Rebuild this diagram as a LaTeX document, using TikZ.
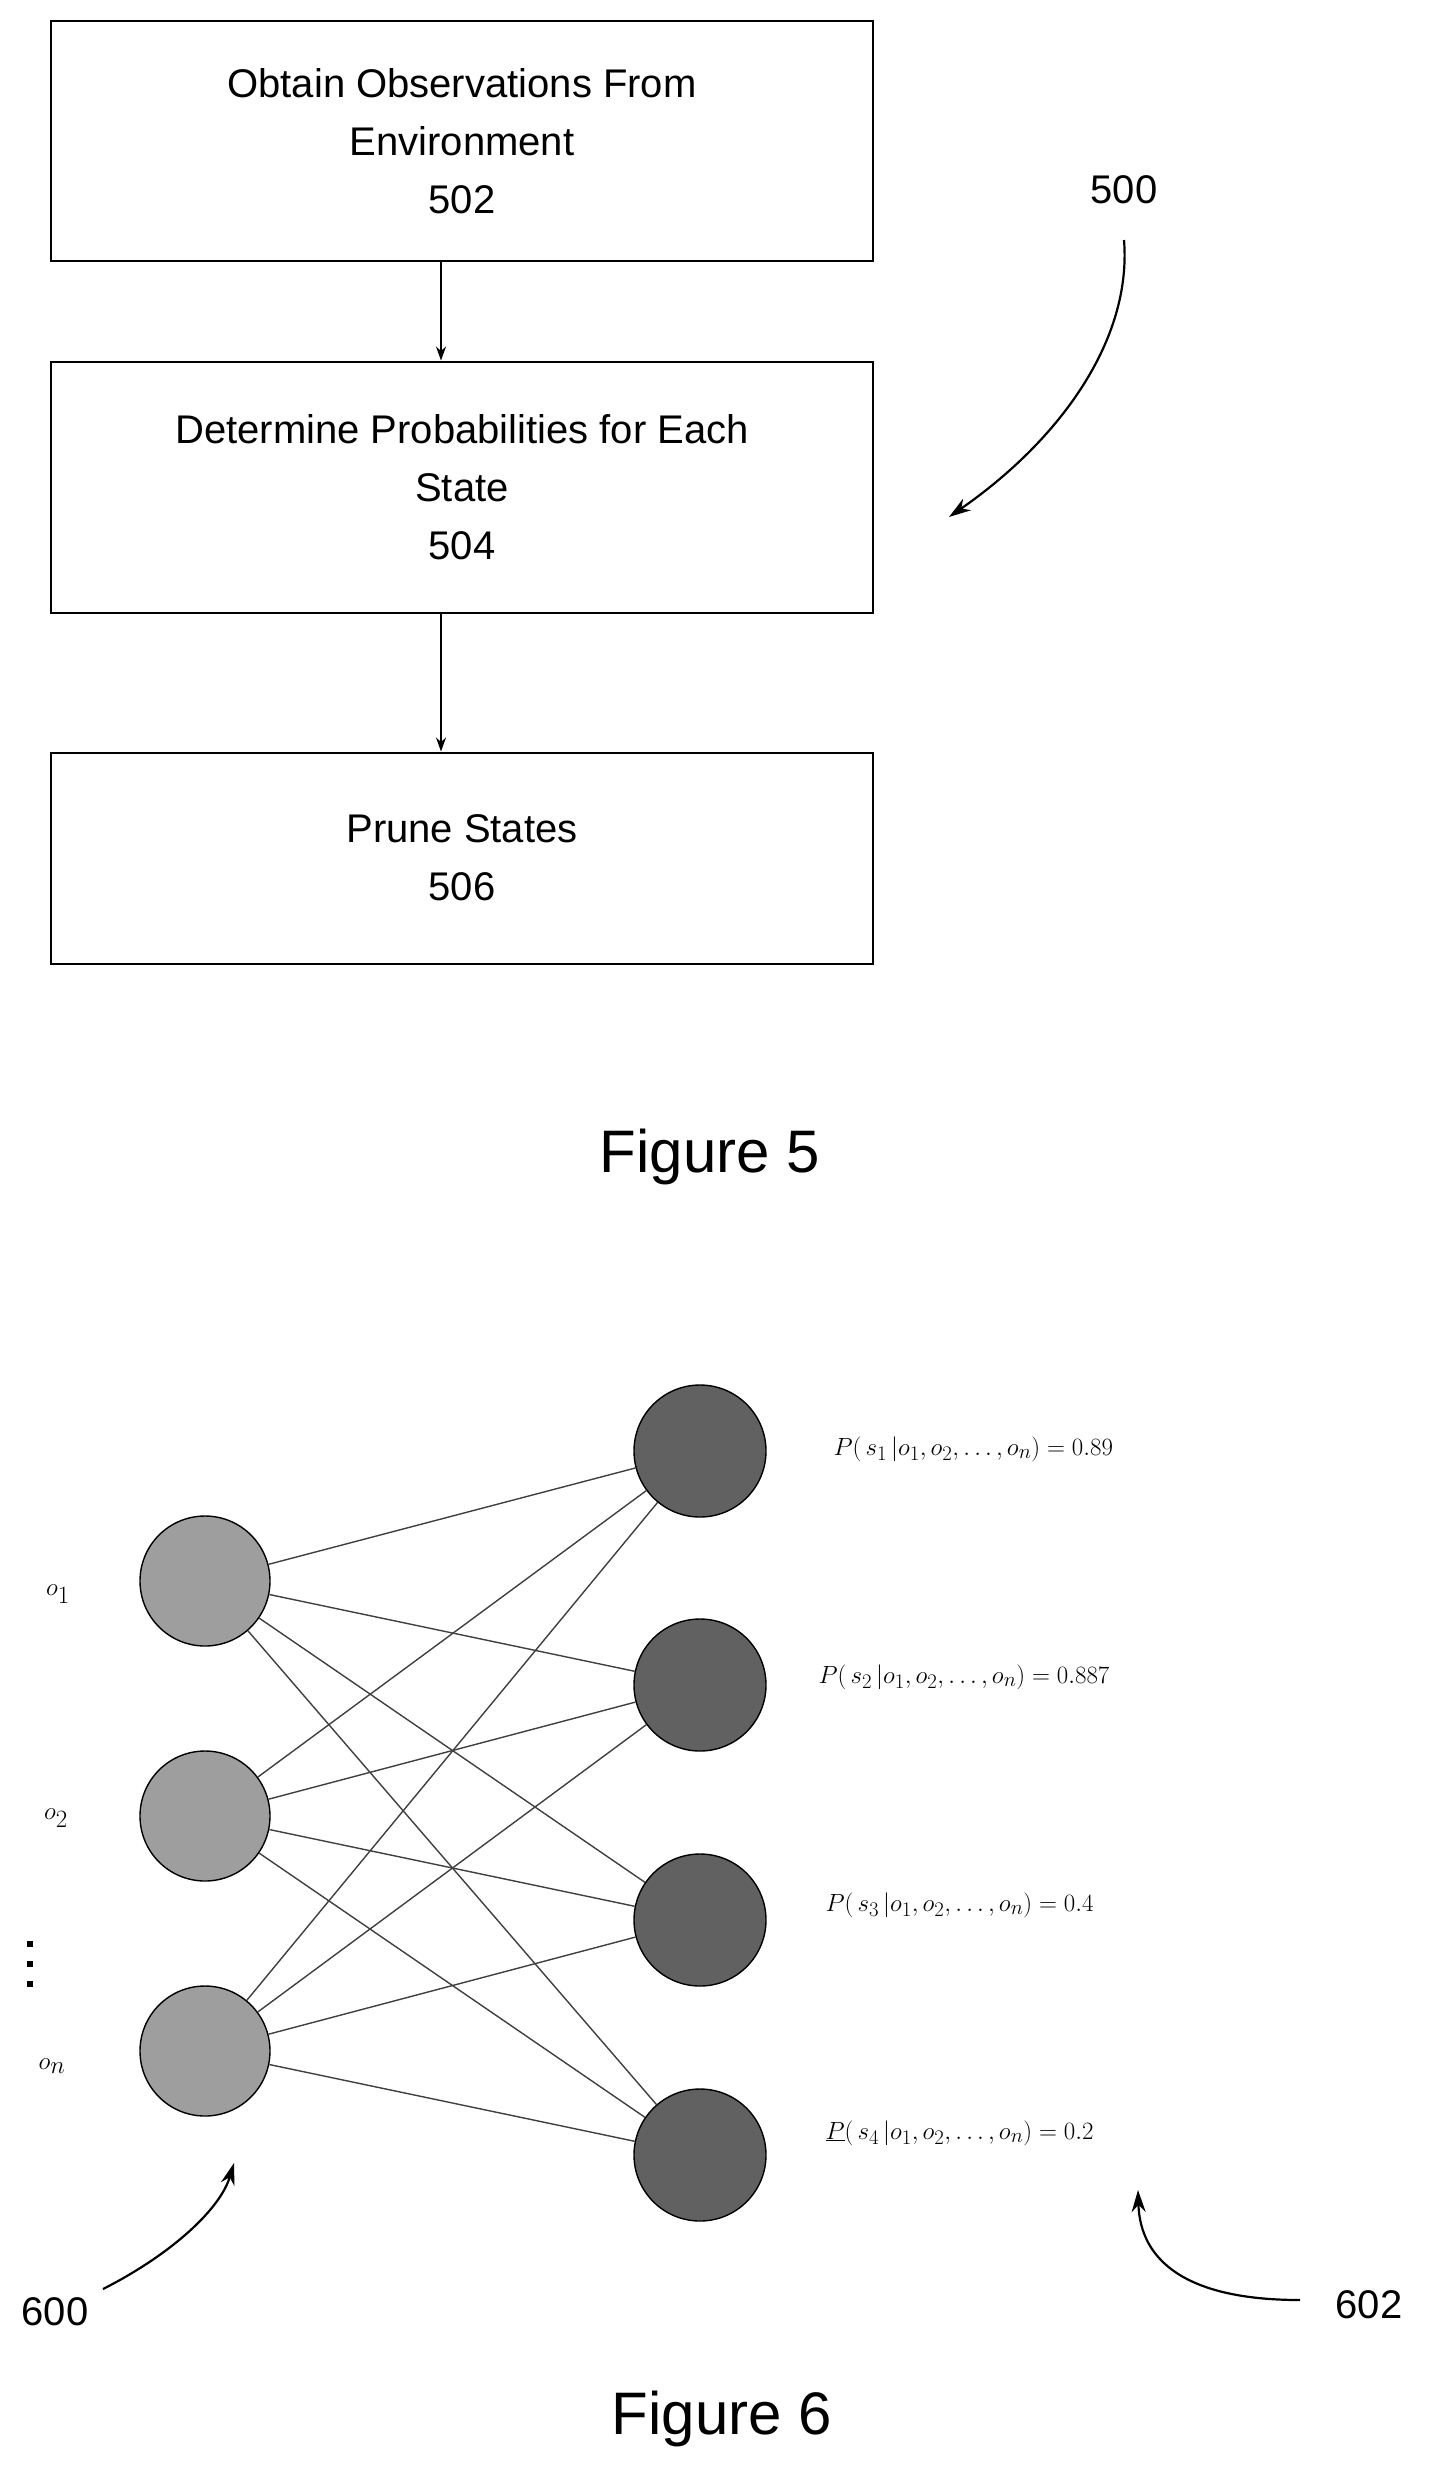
\documentclass[tikz,border=0pt]{standalone}
\usepackage{fontspec}
\setmainfont{Liberation Sans}
\usetikzlibrary{arrows.meta,backgrounds}
\begin{document}
\begin{tikzpicture}[x=1pt,y=-1pt,
  box/.style={draw,line width=2pt,rectangle,minimum width=822pt,inner sep=0pt,align=center,font=\fontsize{40}{58}\selectfont},
  flow/.style={-{Stealth[length=14pt,width=10pt]},line width=1.6pt},
  ref/.style={-{Stealth[length=22pt,width=14pt]},line width=2.2pt},
  obs/.style={circle,draw,line width=1.4pt,fill=black!38,minimum size=130pt,inner sep=0pt},
  st/.style={circle,draw,line width=1.4pt,fill=black!62,minimum size=132pt,inner sep=0pt},
  edge/.style={line width=1.4pt,draw=black!75},
  lbl/.style={font=\fontsize{40}{48}\selectfont},
  eq/.style={anchor=west,font=\fontsize{31}{38}\selectfont}]
\useasboundingbox[fill=white] (0,0) rectangle (1439,2489);
\node[box,minimum height=240pt] (b1) at (462,141) {Obtain Observations From\\Environment\\502};
\node[box,minimum height=251pt] (b2) at (462,487) {Determine Probabilities for Each\\State\\504};
\node[box,minimum height=211pt] (b3) at (462,858) {Prune States\\506};
\draw[flow] (b1.south -| 441,0) -- (b2.north -| 441,0);
\draw[flow] (b2.south -| 441,0) -- (b3.north -| 441,0);
\node[lbl] (l500) at (1124,190) {500};
\coordinate (a500s) at (1124,240);
\coordinate (a500e) at (949,517);
\draw[ref] (a500s) .. controls (1132,340) and (1060,440) .. (a500e);
\node[font=\fontsize{60}{70}\selectfont] (f5) at (710,1157) {Figure 5};

\node[obs] (o1) at (205,1581) {};
\node[obs] (o2) at (205,1816) {};
\node[obs] (o3) at (205,2051) {};
\node[st] (s1) at (700,1451) {};
\node[st] (s2) at (700,1685) {};
\node[st] (s3) at (700,1920) {};
\node[st] (s4) at (700,2155) {};
\foreach \o in {o1,o2,o3}{\foreach \s in {s1,s2,s3,s4}{\draw[edge] (\o) -- (\s);}}
\node[font=\fontsize{34}{40}\selectfont] (lo1) at (58,1594) {$o_1$};
\node[font=\fontsize{34}{40}\selectfont] (lo2) at (56,1818) {$o_2$};
\node[font=\fontsize{34}{40}\selectfont] (lon) at (52,2066) {$o_n$};
\fill (27,1941) rectangle (33,1947);
\fill (27,1961) rectangle (33,1967);
\fill (27,1981) rectangle (33,1987);
\node[eq] (p1) at (830,1449) {$P(\,s_1\,|o_1,o_2,\dots,o_n)=0.89$};
\node[eq] (p2) at (815,1677) {$P(\,s_2\,|o_1,o_2,\dots,o_n)=0.887$};
\node[eq] (p3) at (822,1905) {$P(\,s_3\,|o_1,o_2,\dots,o_n)=0.4$};
\node[eq] (p4) at (822,2133) {$\underline{P}(\,s_4\,|o_1,o_2,\dots,o_n)=0.2$};
\node[lbl] (l600) at (55,2312) {600};
\coordinate (a600s) at (103,2289);
\coordinate (a600e) at (234,2163);
\draw[ref] (a600s) .. controls (170,2255) and (220,2210) .. (a600e);
\node[lbl] (l602) at (1369,2305) {602};
\coordinate (a602s) at (1300,2300);
\coordinate (a602e) at (1138,2190);
\draw[ref] (a602s) .. controls (1185,2300) and (1140,2260) .. (a602e);
\node[font=\fontsize{60}{70}\selectfont] (f6) at (722,2419) {Figure 6};
\end{tikzpicture}
\end{document}
